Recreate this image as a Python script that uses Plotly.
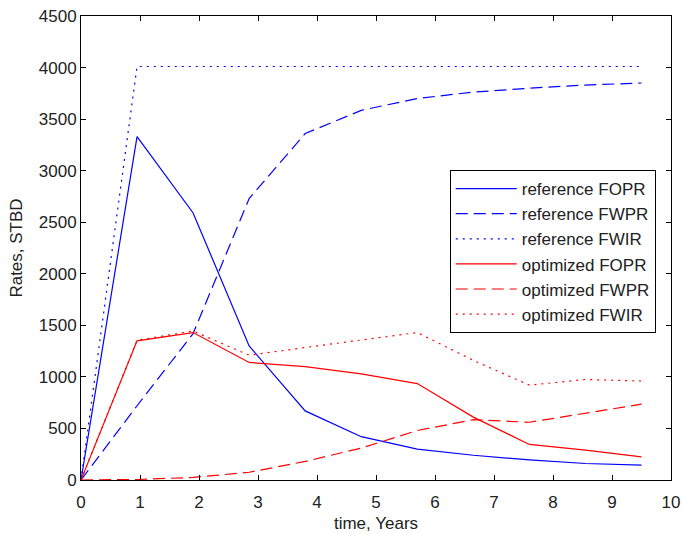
import plotly.graph_objects as go

time = [0, 0.95, 1.9, 2.85, 3.8, 4.75, 5.7, 6.65, 7.6, 8.55, 9.5]

ref_fopr = [0, 3330, 2590, 1300, 670, 420, 300, 240, 195, 160, 145]
ref_fwpr = [0, 720, 1420, 2730, 3360, 3585, 3700, 3762, 3800, 3830, 3850]
ref_fwir = [0, 4010, 4010, 4010, 4010, 4010, 4010, 4010, 4010, 4010, 4010]
opt_fopr = [0, 1350, 1430, 1140, 1100, 1030, 935, 610, 345, 290, 225]
opt_fwpr = [0, 5, 25, 75, 180, 310, 480, 585, 560, 650, 735]
opt_fwir = [0, 1355, 1445, 1210, 1285, 1360, 1430, 1160, 920, 975, 960]

x_ticks = list(range(0, 11))
y_ticks = list(range(0, 4501, 500))

DASH = "12px,6px"
DOT = "2px,5px"
series = [
    ("reference FOPR", ref_fopr, "#0000ff", "solid"),
    ("reference FWPR", ref_fwpr, "#0000ff", DASH),
    ("reference FWIR", ref_fwir, "#0000ff", DOT),
    ("optimized FOPR", opt_fopr, "#ff0000", "solid"),
    ("optimized FWPR", opt_fwpr, "#ff0000", DASH),
    ("optimized FWIR", opt_fwir, "#ff0000", DOT),
]

FONT = "Liberation Sans, Arial"
TXT = "#222222"

fig = go.Figure()
for i, (name, vals, color, dash) in enumerate(series):
    fig.add_trace(go.Scatter(x=time, y=vals, mode="lines", name=name,
                             legendgroup=f"g{i}",
                             line=dict(color=color, width=1.2, dash=dash)))

axis_common = dict(showline=True, linecolor="black", linewidth=1, mirror="ticks",
                   ticks="inside", ticklen=5, tickcolor="black", showgrid=False,
                   zeroline=False, automargin=False,
                   tickfont=dict(family=FONT, size=17, color=TXT))

fig.update_layout(
    width=683, height=534,
    margin=dict(l=81, r=12, t=16, b=54),
    paper_bgcolor="white", plot_bgcolor="white",
    font=dict(family=FONT, size=17, color=TXT),
    xaxis=dict(range=[0, 10], tickvals=x_ticks, ticklabelstandoff=7,
               title=dict(text="time, Years", standoff=5,
                          font=dict(family=FONT, size=17, color=TXT)),
               **axis_common),
    yaxis=dict(range=[0, 4500], tickvals=y_ticks,
               title=dict(text="Rates, STBD", standoff=11,
                          font=dict(family=FONT, size=17, color=TXT)),
               **axis_common),
    legend=dict(x=0.625, y=0.668, xanchor="left", yanchor="top",
                bordercolor="black", borderwidth=1, bgcolor="white",
                font=dict(family=FONT, size=17, color=TXT),
                tracegroupgap=0, itemwidth=61),
    showlegend=True,
)

# remove the browser's default 8px body margin so the figure sits at the window's corner
fig.write_html("out.html", config={"displayModeBar": False},
               post_script="document.body.style.margin='0';")
